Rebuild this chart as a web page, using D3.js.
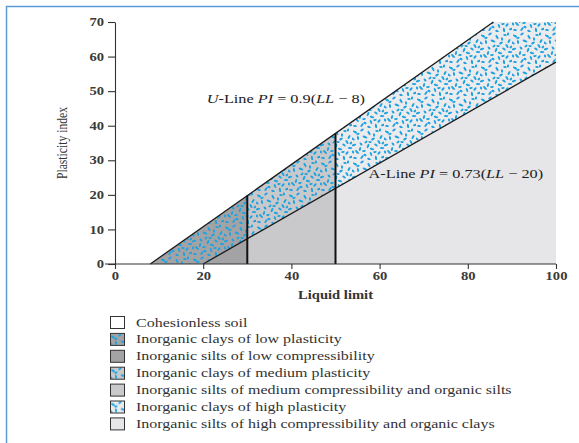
<!DOCTYPE html>
<html>
<head>
<meta charset="utf-8">
<title>Plasticity chart</title>
<script src="https://cdn.jsdelivr.net/npm/d3@7"></script>
<style>
  body { margin: 0; background: #fff; }
  text { font-family: "Liberation Serif", "DejaVu Serif", serif; }
</style>
</head>
<body>
<div id="chart"></div>
<script>
// line end points [LL, PI]
const uLine = [[8, 0], [85.8, 70]];
const aLine = [[20, 0], [100, 58.4]];
const dividers = [30, 50];          // LL boundaries low / medium / high
const xTicks = [0, 20, 40, 60, 80, 100];
const yTicks = [0, 10, 20, 30, 40, 50, 60, 70];

const legendLabels = [
  "Cohesionless soil",
  "Inorganic clays of low plasticity",
  "Inorganic silts of low compressibility",
  "Inorganic clays of medium plasticity",
  "Inorganic silts of medium compressibility and organic silts",
  "Inorganic clays of high plasticity",
  "Inorganic silts of high compressibility and organic clays"
];
const legendFills = ["#fff", "url(#dotDark)", "#a3a3a5", "url(#dotMid)", "#c9c9cb", "url(#dotLight)", "#e6e6e8"];

const width = 579, height = 443;
const K = 1.27; // the source type is set wide
const svg = d3.select("#chart").append("svg")
  .attr("width", width).attr("height", height);

const x = d3.scaleLinear().domain([0, 100]).range([115, 556]);
const y = d3.scaleLinear().domain([0, 70]).range([264, 22]);

// value of a straight line at LL
function at(line, ll) {
  const [p, q] = line;
  return p[1] + (q[1] - p[1]) * (ll - p[0]) / (q[0] - p[0]);
}

// fleck texture (x, y, angle, length)
const flecks = [[3,4,30,2.3],[10,2,-40,2],[17,5,60,2.4],[25,3,10,1.8],[29,9,-60,2.3],[6,10,80,2],[13,9,20,2.5],[21,11,-30,2],
  [2,17,-20,2.2],[9,16,50,1.8],[16,18,-70,2.4],[24,17,35,2],[30,20,0,2.2],[5,24,45,2.5],[12,23,-10,1.9],[19,26,70,2.2],[27,25,-45,2],
  [3,30,10,2],[10,29,-55,2.4],[17,31,25,1.8],[24,30,80,2.2],[31,29,-15,2],[27,14,60,2.3],[14,14,-35,1.7],[20,21,15,2.2],[8,21,-75,2],
  [22,7,85,1.8],[1,11,40,1.9],[6,6,-15,1.6],[13,27,30,1.7],[28,2,-80,1.6],[18,14,5,1.7],[31,15,-40,1.6],[23,24,-5,1.7],[1,24,75,1.6]];
const defs = svg.append("defs");
[["dotDark", "#a3a3a5"], ["dotMid", "#c9c9cb"], ["dotLight", "#ebebed"]].forEach(([id, bg]) => {
  const p = defs.append("pattern").attr("id", id)
    .attr("patternUnits", "userSpaceOnUse").attr("width", 32).attr("height", 32);
  p.append("rect").attr("width", 32).attr("height", 32).attr("fill", bg);
  p.selectAll("ellipse").data(flecks).join("ellipse")
    .attr("rx", d => d[3]).attr("ry", 1.05)
    .attr("transform", d => `translate(${d[0]},${d[1]}) rotate(${d[2]})`)
    .attr("fill", "#1fa3e0");
});

// frame
svg.append("path").attr("d", "M6.5,443V6.5H579")
  .attr("fill", "none").attr("stroke", "#5b9bd5").attr("stroke-width", 1.5);

const [l1, l2] = dividers;
const u1 = at(uLine, l1), u2 = at(uLine, l2), a1 = at(aLine, l1), a2 = at(aLine, l2), a3 = at(aLine, 100);
const regions = [
  { pts: [uLine[0], [l1, u1], [l1, a1], aLine[0]], fill: "url(#dotDark)" },
  { pts: [aLine[0], [l1, a1], [l1, 0]], fill: "#a3a3a5" },
  { pts: [[l1, a1], [l1, u1], [l2, u2], [l2, a2]], fill: "url(#dotMid)" },
  { pts: [[l1, 0], [l1, a1], [l2, a2], [l2, 0]], fill: "#c9c9cb" },
  { pts: [[l2, a2], [l2, u2], uLine[1], [100, 70], [100, a3]], fill: "url(#dotLight)" },
  { pts: [[l2, 0], [l2, a2], [100, a3], [100, 0]], fill: "#e6e6e8" }
];
const line = d3.line().x(d => x(d[0])).y(d => y(d[1]));
svg.append("g").selectAll("path").data(regions).join("path")
  .attr("d", d => line(d.pts) + "Z")
  .attr("fill", d => d.fill);

svg.append("g").selectAll("path").data([uLine, aLine]).join("path")
  .attr("d", line).attr("fill", "none").attr("stroke", "#1a1a1a").attr("stroke-width", 1.3);

svg.append("g").selectAll("line").data(dividers).join("line")
  .attr("x1", d => x(d)).attr("x2", d => x(d))
  .attr("y1", y(0)).attr("y2", d => y(at(uLine, d)))
  .attr("stroke", "#111").attr("stroke-width", 2);

// axes
const xAxis = svg.append("g").attr("transform", `translate(0,${y(0)})`)
  .call(d3.axisBottom(x).tickValues(xTicks).tickSize(5).tickSizeOuter(0).tickPadding(3));
const yAxis = svg.append("g").attr("transform", `translate(${x(0)},0)`)
  .call(d3.axisLeft(y).tickValues(yTicks).tickSize(7).tickSizeOuter(0).tickPadding(5));
[xAxis, yAxis].forEach(g => {
  g.selectAll("path, line").attr("stroke", "#333").attr("stroke-width", 1.1);
  g.selectAll("text").attr("font-family", "Liberation Serif").attr("font-size", 11.5)
    .attr("fill", "#3a3a3a").attr("font-weight", "bold");
});
xAxis.selectAll(".tick text").attr("x", 0).attr("transform", `scale(${K},1)`);
yAxis.selectAll(".tick text").attr("x", -11 / K).attr("transform", `scale(${K},1)`);
xAxis.select(".domain").attr("d", `M${x(0) - 10},0H${x(100)}`);

svg.append("text").attr("transform", `translate(${x(50)},299) scale(${K},1)`)
  .attr("text-anchor", "middle").attr("font-size", 11.5).attr("font-weight", "bold").attr("fill", "#333")
  .text("Liquid limit");
svg.append("text").attr("transform", `translate(67,${y(35)}) rotate(-90)`)
  .attr("text-anchor", "middle").attr("font-size", 15).attr("fill", "#333")
  .attr("textLength", 72).attr("lengthAdjust", "spacingAndGlyphs")
  .text("Plasticity index");

// line annotations
function eqLabel(px, py, parts) {
  const t = svg.append("text").attr("transform", `translate(${px},${py}) scale(${K},1)`)
    .attr("font-size", 12.8).attr("fill", "#222");
  parts.forEach(([s, it]) => t.append("tspan").attr("font-style", it ? "italic" : "normal").text(s));
}
eqLabel(x(20.8), y(46.5), [["U", 1], ["-Line ", 0], ["PI", 1], [" = 0.9(", 0], ["LL", 1], [" − 8)", 0]]);
eqLabel(x(57.5), y(25), [["A-Line ", 0], ["PI", 1], [" = 0.73(", 0], ["LL", 1], [" − 20)", 0]]);

// legend
const lg = svg.append("g").attr("transform", "translate(110,316)");
const row = lg.selectAll("g").data(legendLabels).join("g")
  .attr("transform", (d, i) => `translate(0,${i * 16.9})`);
row.append("rect").attr("width", 14).attr("height", 12).attr("y", 0.5).attr("x", 0.5)
  .attr("fill", (d, i) => legendFills[i]).attr("stroke", "#333").attr("stroke-width", 1);
row.append("text").attr("transform", `translate(26,10.5) scale(${K},1)`)
  .attr("font-size", 12.6).attr("fill", "#333")
  .text(d => d);
</script>
</body>
</html>
